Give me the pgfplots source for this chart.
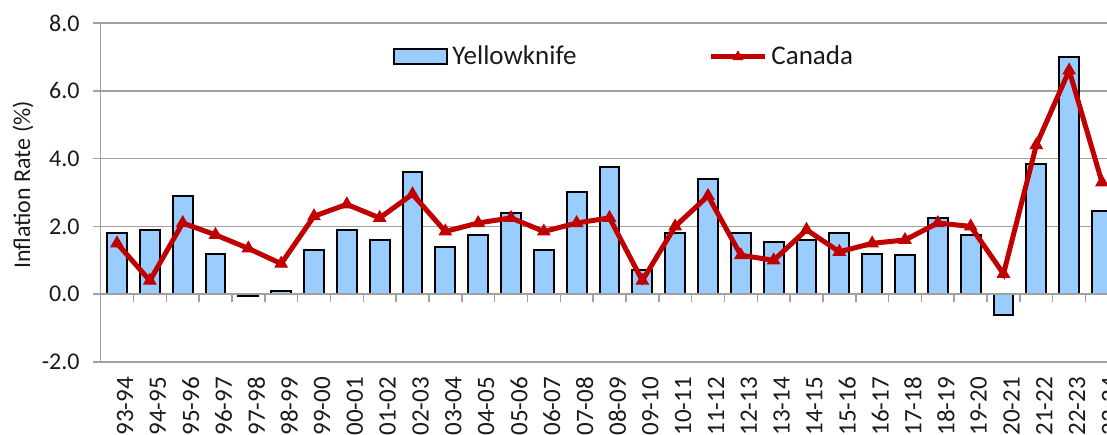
\documentclass[border=0pt]{standalone}
\usepackage{fontspec}
\setmainfont{Carlito}
\usepackage{pgfplots}
\pgfplotsset{compat=1.18}
\definecolor{barblue}{HTML}{99CCFF}
\definecolor{canred}{HTML}{C00000}
\definecolor{gridgray}{HTML}{A0A0A0}
\definecolor{txt}{HTML}{1A1A1A}
\newcommand\fs{\fontsize{12bp}{14bp}\selectfont}
\pgfplotsset{
  barleg/.style={legend image code/.code={\draw[##1] (0bp,-3.75bp) rectangle (26.5bp,3.75bp);}},
  lineleg/.style={legend image code/.code={\draw[##1, mark repeat=2, mark phase=2, mark size=2.8bp] plot coordinates {(0bp,0bp) (13.5bp,0bp) (27bp,0bp)};}},
}
\begin{document}
\begin{tikzpicture}
\useasboundingbox (0,0) rectangle (553.5bp,217.5bp);
\clip (0,0) rectangle (553.5bp,217.5bp);
\begin{axis}[
  at={(50.3bp,36.5bp)}, anchor=south west,
  scale only axis, width=508.9bp, height=169.5bp,
  xmin=-0.5, xmax=30.5, ymin=-2, ymax=8,
  axis lines*=left,
  axis line style={draw=gridgray, line width=0.75bp},
  ymajorgrids, grid style={draw=gridgray, line width=0.75bp},
  ytick={-2,0,2,4,6,8},
  yticklabel style={font=\fs, text=txt, xshift=-3bp},
  /pgf/number format/.cd, fixed, fixed zerofill, precision=1, assume math mode=true,
  /pgfplots/.cd,
  tick align=outside,
  ytick style={draw=gridgray, line width=0.75bp},
  major tick length=4bp,
  xtick={0,...,30},
  xtick style={draw=none},
  xticklabels={93-94,94-95,95-96,96-97,97-98,98-99,99-00,00-01,01-02,02-03,03-04,04-05,05-06,06-07,07-08,08-09,09-10,10-11,11-12,12-13,13-14,14-15,15-16,16-17,17-18,18-19,19-20,20-21,21-22,22-23,23-24},
  xticklabel style={font=\fontsize{12.5bp}{14bp}\selectfont, text=txt, rotate=90, anchor=east, yshift=-4bp},
  ylabel={Inflation Rate (\%)},
  every axis y label/.style={at={(axis description cs:-0.0762,0.522)}, rotate=90, anchor=center, font=\fs, text=txt},
  legend columns=2,
  legend style={draw=none, fill=none, at={(axis description cs:0.2873,0.9)}, anchor=west,
    font=\fontsize{13.5bp}{15bp}\selectfont, text=txt, inner sep=0pt, column sep=0pt,
    /tikz/every even column/.append style={column sep=64bp}},
]
\addplot[ybar, bar width=0.6, fill=barblue, draw=black, line width=1bp, barleg]
coordinates {
(0,1.8)(1,1.9)(2,2.9)(3,1.2)(4,-0.06)(5,0.1)(6,1.3)(7,1.9)(8,1.6)(9,3.6)
(10,1.4)(11,1.75)(12,2.4)(13,1.3)(14,3.0)(15,3.75)(16,0.7)(17,1.8)(18,3.4)(19,1.8)
(20,1.55)(21,1.6)(22,1.8)(23,1.2)(24,1.15)(25,2.25)(26,1.75)(27,-0.6)(28,3.85)(29,7.0)(30,2.45)};
\addlegendentry{Yellowknife}
\addplot[color=canred, line width=2.5bp, mark=triangle*, mark size=3.5bp, mark options={solid, line width=0.5bp}, lineleg]
coordinates {
(0,1.5)(1,0.4)(2,2.1)(3,1.75)(4,1.35)(5,0.9)(6,2.3)(7,2.65)(8,2.25)(9,2.95)
(10,1.85)(11,2.1)(12,2.25)(13,1.85)(14,2.1)(15,2.25)(16,0.4)(17,2.0)(18,2.9)(19,1.15)
(20,1.0)(21,1.9)(22,1.25)(23,1.5)(24,1.6)(25,2.1)(26,2.0)(27,0.6)(28,4.4)(29,6.6)(30,3.3)};
\addlegendentry{Canada}
\draw[gridgray, line width=0.75bp] (axis cs:-0.5,0) -- (axis cs:30.5,0);
\pgfplotsinvokeforeach{0.5,1.5,...,29.5}{\draw[gridgray, line width=0.75bp] (axis cs:#1,0) -- ++(0bp,-4bp);}
\end{axis}
\end{tikzpicture}
\end{document}
